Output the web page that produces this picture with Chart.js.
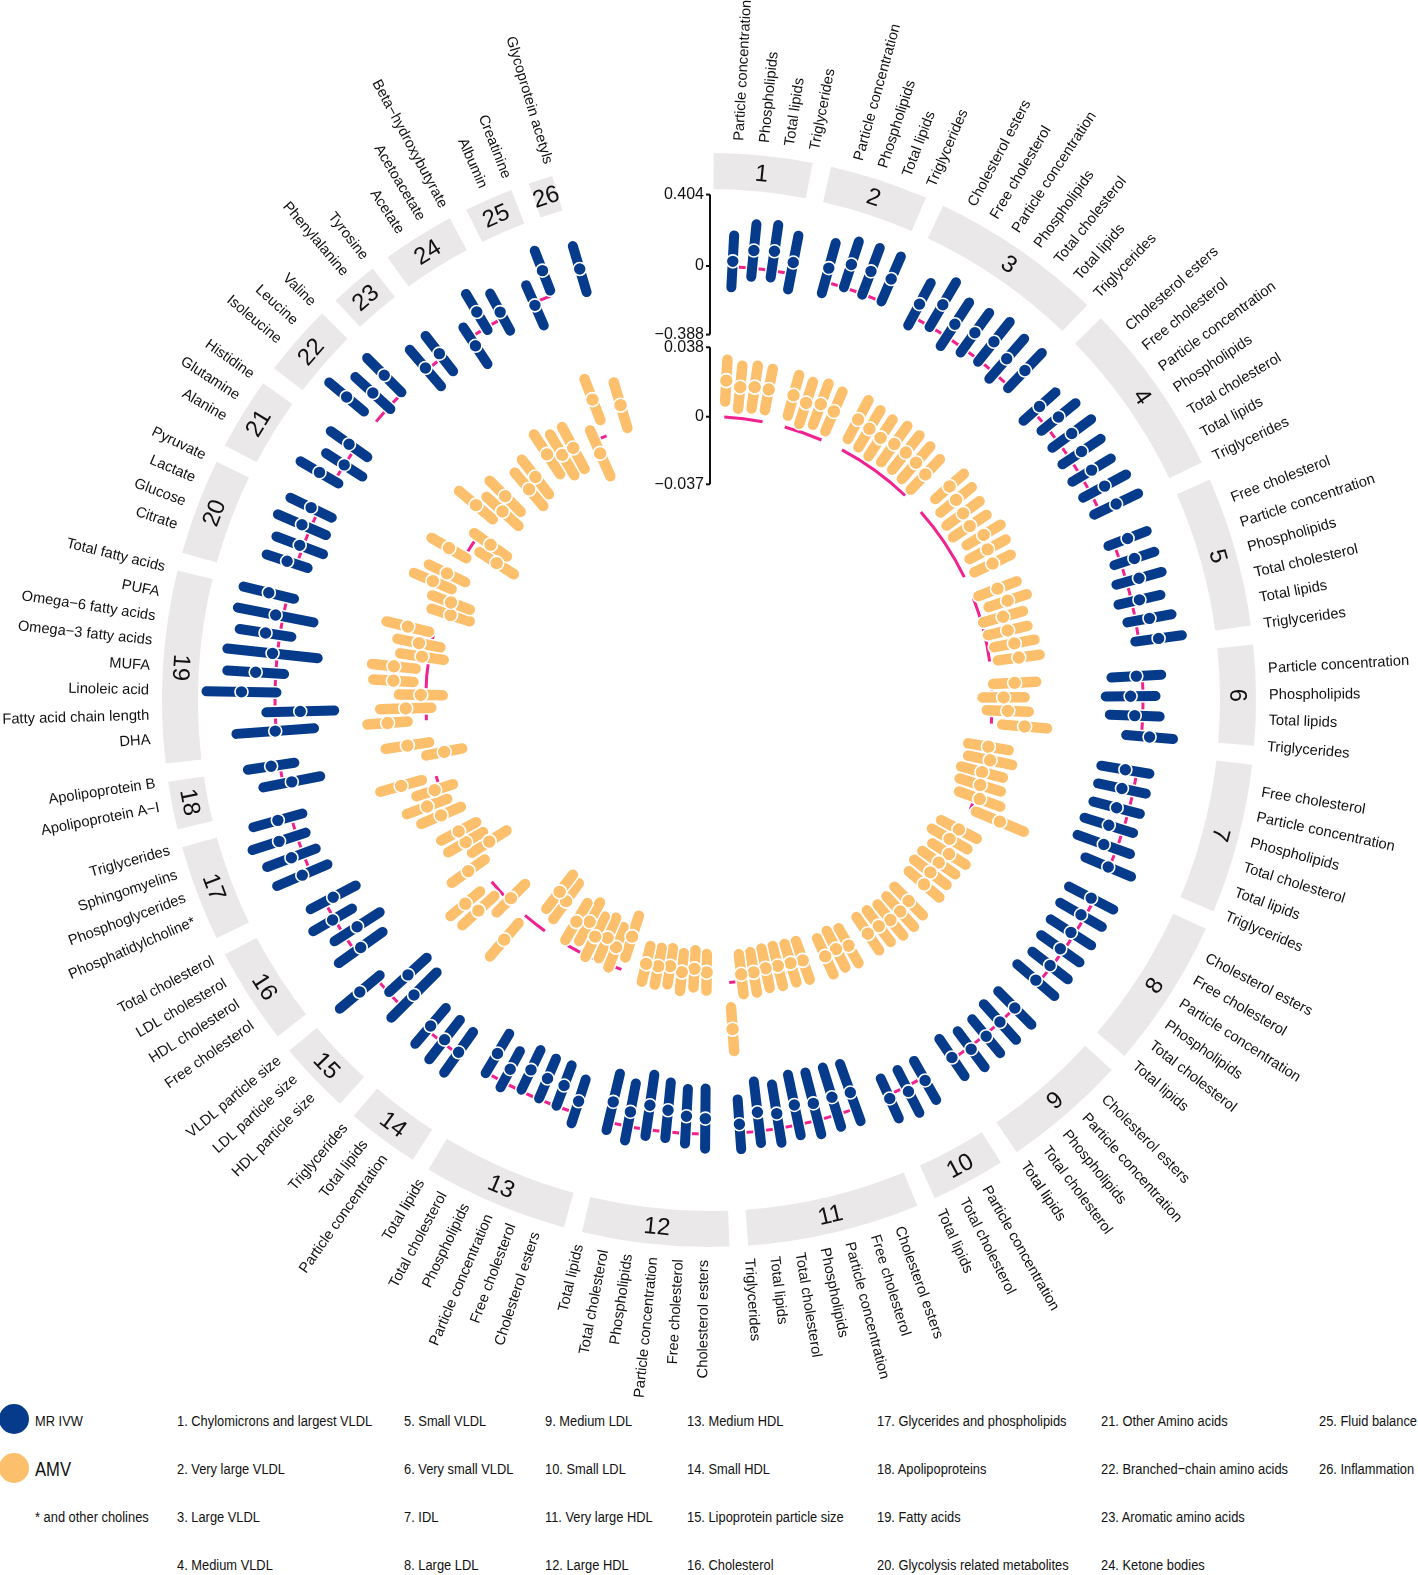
<!DOCTYPE html>
<html>
<head>
<meta charset="utf-8">
<script src="https://cdn.jsdelivr.net/npm/chart.js@4.4.1/dist/chart.umd.min.js"></script>
<style>
html,body{margin:0;padding:0;background:#fff;}
body{width:1418px;height:1575px;position:relative;overflow:hidden;font-family:"Liberation Sans",Arial,sans-serif;}
#wrap{position:absolute;left:0;top:0;width:1418px;height:1400px;}
.lg{position:absolute;font-family:"Liberation Sans",Arial,sans-serif;font-size:15.5px;color:#111;white-space:nowrap;line-height:1;transform-origin:0 50%;transform:translateY(-50%) scaleX(0.83);}
.mk{position:absolute;border-radius:50%;}
</style>
</head>
<body>
<div id="wrap"><canvas id="c" width="1418" height="1400"></canvas></div>
<div id="legend"></div>
<script>
// ---------------- DATA ----------------
const groupLegend = ["1. Chylomicrons and largest VLDL","2. Very large VLDL","3. Large VLDL","4. Medium VLDL",
  "5. Small VLDL","6. Very small VLDL","7. IDL","8. Large LDL",
  "9. Medium LDL","10. Small LDL","11. Very large HDL","12. Large HDL",
  "13. Medium HDL","14. Small HDL","15. Lipoprotein particle size","16. Cholesterol",
  "17. Glycerides and phospholipids","18. Apolipoproteins","19. Fatty acids","20. Glycolysis related metabolites",
  "21. Other Amino acids","22. Branched\u2212chain amino acids","23. Aromatic amino acids","24. Ketone bodies",
  "25. Fluid balance","26. Inflammation"];

const L4 = ["Particle concentration","Phospholipids","Total lipids","Triglycerides"];
const L7 = ["Cholesterol esters","Free cholesterol","Particle concentration","Phospholipids","Total cholesterol","Total lipids","Triglycerides"];
const L6a = ["Free cholesterol","Particle concentration","Phospholipids","Total cholesterol","Total lipids","Triglycerides"];
const L6b = ["Cholesterol esters","Free cholesterol","Particle concentration","Phospholipids","Total cholesterol","Total lipids"];
const groupMetabolites = [
  L4, L4, L7, L7, L6a, L4, L6a, L6b,
  ["Cholesterol esters","Particle concentration","Phospholipids","Total cholesterol","Total lipids"],
  ["Particle concentration","Total cholesterol","Total lipids"],
  L7, L6b, L6b,
  ["Particle concentration","Total lipids","Triglycerides"],
  ["HDL particle size","LDL particle size","VLDL particle size"],
  ["Free cholesterol","HDL cholesterol","LDL cholesterol","Total cholesterol"],
  ["Phosphatidylcholine*","Phosphoglycerides","Sphingomyelins","Triglycerides"],
  ["Apolipoprotein A\u2212I","Apolipoprotein B"],
  ["DHA","Fatty acid chain length","Linoleic acid","MUFA","Omega\u22123 fatty acids","Omega\u22126 fatty acids","PUFA","Total fatty acids"],
  ["Citrate","Glucose","Lactate","Pyruvate"],
  ["Alanine","Glutamine","Histidine"],
  ["Isoleucine","Leucine","Valine"],
  ["Phenylalanine","Tyrosine"],
  ["Acetate","Acetoacetate","Beta\u2212hydroxybutyrate"],
  ["Albumin","Creatinine"],
  ["Glycoprotein acetyls"]
];

// MR IVW estimates and 95% CI half-widths (one per metabolite, in group order)
const mrEst = [
  0.03,0.10,0.11,0.065,
  0.08,0.137,0.137,0.14,
  0.081,0.143,0.085,0.11,0.134,0.107,0.127,
  0.045,0.089,0.091,0.078,0.07,0.089,0.101,
  0.083,0.081,0.073,0.045,0.079,0.112,
  -0.034,-0.07,-0.045,0.046,
  -0.067,-0.066,-0.07,-0.085,-0.077,-0.007,
  -0.02,-0.025,-0.022,-0.02,-0.01,-0.02,
  0.0,0.0,0.01,0.015,-0.01,
  0.02,0.03,0.02,
  -0.095,-0.103,-0.098,-0.114,-0.084,-0.107,-0.049,
  -0.087,-0.097,-0.123,-0.138,-0.083,-0.118,
  -0.068,-0.125,-0.127,-0.133,-0.083,-0.125,
  -0.01,-0.02,-0.03,
  -0.095,-0.149,0.12,
  -0.038,-0.087,0.011,-0.054,
  0.05,0.07,0.105,0.077,
  -0.05,0.05,
  0.005,-0.142,0.19,0.114,0.028,0.082,0.043,0.108,
  0.057,0.02,0.052,0.045,
  0.097,0.0,0.043,
  0.217,0.12,0.143,
  0.015,0.028,
  -0.055,0.103,0.037,
  -0.015,0.15,
  0.09
];
const mrHalf = [
  0.147,0.149,0.15,0.155,
  0.147,0.136,0.141,0.138,
  0.136,0.147,0.147,0.138,0.144,0.15,0.138,
  0.121,0.124,0.136,0.13,0.127,0.138,0.138,
  0.116,0.119,0.133,0.122,0.127,0.133,
  0.141,0.141,0.141,0.133,
  0.138,0.138,0.136,0.144,0.158,0.14,
  0.141,0.136,0.136,0.133,0.127,0.138,
  0.133,0.136,0.124,0.127,0.127,
  0.127,0.136,0.124,
  0.172,0.175,0.18,0.175,0.167,0.175,0.141,
  0.17,0.155,0.158,0.175,0.164,0.164,
  0.13,0.122,0.122,0.124,0.116,0.13,
  0.141,0.141,0.133,
  0.181,0.144,0.147,
  0.152,0.152,0.127,0.144,
  0.155,0.147,0.158,0.144,
  0.164,0.133,
  0.22,0.192,0.198,0.161,0.257,0.148,0.218,0.147,
  0.122,0.141,0.148,0.13,
  0.124,0.122,0.127,
  0.128,0.134,0.137,
  0.136,0.127,
  0.124,0.119,0.119,
  0.124,0.121,
  0.136
];
// AMV estimates and 95% CI half-widths
const amvEst = [
  0.020,0.017,0.018,0.018,
  0.018,0.016,0.018,0.017,
  0.0188,0.0174,0.0164,0.0179,0.018,0.0173,0.016,
  0.021,0.019,0.0175,0.0165,0.0203,0.0183,0.0172,
  0.0142,0.0172,0.0122,0.0128,0.0149,0.0161,
  0.0125,0.0062,0.0086,0.0183,
  0.0,0.0023,-0.0005,0.0005,0.0027,0.0175,
  -0.001,-0.003,0.001,-0.001,-0.0015,0.0,
  0.0,0.001,0.001,-0.0003,-0.0004,
  -0.0004,-0.002,-0.001,
  -0.0036,-0.0043,-0.0047,-0.005,-0.004,-0.0039,0.0256,
  -0.006,-0.0077,-0.0054,-0.0078,-0.0067,-0.0066,
  -0.0189,-0.0105,-0.0135,-0.0113,-0.0172,-0.0137,
  -0.020,-0.022,0.0175,
  -0.0017,0.0159,0.0188,
  0.0066,-0.012,-0.0008,-0.0003,
  0.0046,0.0099,0.003,0.0199,
  -0.0074,0.0119,
  0.0213,0.011,0.0027,0.018,0.0184,0.0038,0.0067,0.0146,
  -0.0062,-0.0041,0.0095,0.0042,
  0.0098,-0.0168,-0.0084,
  0.0112,-0.002,0.0027,
  -0.0034,-0.0004,
  0.006,0.0013,0.0016,
  -0.0075,0.0213,
  0.0134
];
const amvHalf = [
  0.0115,0.0118,0.0118,0.0115,
  0.0115,0.012,0.012,0.0118,
  0.012,0.0118,0.012,0.0122,0.012,0.0118,0.0115,
  0.0104,0.011,0.0112,0.011,0.0108,0.0112,0.011,
  0.0112,0.011,0.0113,0.0111,0.0112,0.0115,
  0.0118,0.0115,0.0115,0.0123,
  0.0112,0.0123,0.0118,0.0118,0.012,0.0142,
  0.011,0.0112,0.0108,0.011,0.0112,0.011,
  0.011,0.0112,0.011,0.0108,0.011,
  0.011,0.0112,0.0108,
  0.0112,0.011,0.0113,0.011,0.0112,0.011,0.012,
  0.010,0.0102,0.0104,0.010,0.0102,0.010,
  0.012,0.0118,0.012,0.0122,0.012,0.0118,
  0.012,0.0118,0.012,
  0.011,0.0118,0.0105,
  0.011,0.0112,0.011,0.0108,
  0.0118,0.0118,0.0105,0.0118,
  0.010,0.012,
  0.011,0.014,0.012,0.011,0.012,0.012,0.012,0.012,
  0.011,0.011,0.0112,0.011,
  0.011,0.0112,0.011,
  0.012,0.0118,0.012,
  0.012,0.012,
  0.013,0.013,0.013,
  0.0137,0.012,
  0.013
];
const mrTicks = [0.404, 0, -0.388];
const amvTicks = [0.038, 0, -0.037];
const tickText = v => v === 0 ? "0" : (v < 0 ? "\u2212" + Math.abs(v).toString() : v.toString());

// ---------------- LAYOUT / STYLE ----------------
const BLUE = "#063b8c", ORANGE = "#fcbf6c", PINK = "#f0228f", BOXC = "#ebe8e9";
const N_SLOTS = 3600;                 // angular category slots (0.1 degree each)
const A0 = 4.3, STEP_DEG = 2.6, GAP_DEG = 1.96, WARP = 1.2;
const warpDeg = u => u - WARP * Math.cos(u * Math.PI / 180);
const DRAW_R = 700;
const MR_PX = 176.8, MR_ZERO = 434;
const AMV_PX = 1827, AMV_ZERO = 283.3;
const mrMin = -MR_ZERO / MR_PX, mrMax = mrMin + DRAW_R / MR_PX;
const amvMin = -AMV_ZERO / AMV_PX, amvMax = amvMin + DRAW_R / AMV_PX;

// slot labels (category axis around the circle)
const slotLabels = new Array(N_SLOTS).fill("");
const items = [];
const groupInfo = [];
let k = 0;
groupMetabolites.forEach((list, g) => {
  const slots = [];
  let uFirst = null, uLast = null;
  list.forEach(name => {
    const u = A0 + STEP_DEG * k + GAP_DEG * g;
    if (uFirst === null) uFirst = u;
    uLast = u;
    const slot = Math.round(warpDeg(u) * 10) % N_SLOTS;
    slotLabels[slot] = name;
    items.push({slot, g, name, k});
    slots.push(slot);
    k++;
  });
  groupInfo.push({slots, boxStart: warpDeg(uFirst - STEP_DEG) * 10, boxEnd: warpDeg(uLast) * 10});
});
const mrData = new Array(N_SLOTS).fill(null);
const amvData = new Array(N_SLOTS).fill(null);
items.forEach(it => { mrData[it.slot] = mrEst[it.k]; amvData[it.slot] = amvEst[it.k]; });

function angOf(scale, idx) {
  return scale.getIndexAngle(idx) - Math.PI / 2;
}

const decor = {
  id: "decor",
  beforeDatasetsDraw(chart) {
    const ctx = chart.ctx;
    const sB = chart.scales.r, sO = chart.scales.rO;
    const cx = sB.xCenter, cy = sB.yCenter;
    ctx.save();
    // group boxes + numbers
    const R1 = 511, R2 = 547;
    groupInfo.forEach((gi, g) => {
      let a0 = angOf(sB, gi.boxStart), a1 = angOf(sB, gi.boxEnd);
      if (a1 < a0) a1 += 2 * Math.PI;
      ctx.beginPath();
      ctx.arc(cx, cy, R2, a0, a1);
      ctx.arc(cx, cy, R1, a1, a0, true);
      ctx.closePath();
      ctx.fillStyle = BOXC;
      ctx.fill();
      const am = (a0 + a1) / 2, rm = (R1 + R2) / 2;
      let th = am + Math.PI / 2;
      let td = ((th * 180 / Math.PI) % 360 + 360) % 360;
      const flip = td > 118 && td < 288;
      ctx.save();
      ctx.translate(cx + rm * Math.cos(am), cy + rm * Math.sin(am));
      ctx.rotate(flip ? th + Math.PI : th);
      ctx.fillStyle = "#111";
      ctx.font = "24px 'Liberation Sans', Arial, sans-serif";
      ctx.textAlign = "center";
      ctx.textBaseline = "middle";
      ctx.fillText(String(g + 1), 0, 1);
      ctx.restore();
    });
    // metabolite labels
    ctx.font = "14.7px 'Liberation Sans', Arial, sans-serif";
    ctx.fillStyle = "#111";
    const RL = 560;
    items.forEach(it => {
      const a = angOf(sB, it.slot);
      let td = (((a + Math.PI / 2) * 180 / Math.PI) % 360 + 360) % 360;
      ctx.save();
      ctx.translate(cx + RL * Math.cos(a), cy + RL * Math.sin(a));
      if (td < 180) { ctx.rotate(a); ctx.textAlign = "left"; }
      else { ctx.rotate(a + Math.PI); ctx.textAlign = "right"; }
      ctx.textBaseline = "middle";
      ctx.fillText(it.name, 0, 0);
      ctx.restore();
    });
    // zero arcs
    [[sB, 3], [sO, 3]].forEach(([s, w]) => {
      const r0 = s.getDistanceFromCenterForValue(0);
      ctx.strokeStyle = PINK;
      ctx.lineWidth = w;
      ctx.lineCap = "butt";
      groupInfo.forEach(gi => {
        const slots = gi.slots;
        if (slots.length < 2) return;
        let a0 = angOf(s, slots[0]), a1 = angOf(s, slots[slots.length - 1]);
        if (a1 < a0) a1 += 2 * Math.PI;
        ctx.beginPath();
        ctx.arc(cx, cy, r0, a0, a1);
        ctx.stroke();
      });
    });
    // CI bars
    const bars = (s, est, half, color, w) => {
      ctx.lineCap = "round";
      items.forEach(it => {
        const p1 = s.getPointPositionForValue(it.slot, est[it.k] - half[it.k]);
        const p2 = s.getPointPositionForValue(it.slot, est[it.k] + half[it.k]);
        ctx.beginPath(); ctx.moveTo(p1.x, p1.y); ctx.lineTo(p2.x, p2.y);
        ctx.strokeStyle = "#fff"; ctx.lineWidth = w + 3; ctx.stroke();
        ctx.beginPath(); ctx.moveTo(p1.x, p1.y); ctx.lineTo(p2.x, p2.y);
        ctx.strokeStyle = color; ctx.lineWidth = w; ctx.stroke();
      });
    };
    bars(sB, mrEst, mrHalf, BLUE, 10);
    bars(sO, amvEst, amvHalf, ORANGE, 10.5);
    // axes at top
    const axis = (s, ticks) => {
      const rTop = s.getDistanceFromCenterForValue(ticks[0]);
      const rBot = s.getDistanceFromCenterForValue(ticks[ticks.length - 1]);
      ctx.strokeStyle = "#111"; ctx.lineWidth = 2; ctx.lineCap = "butt";
      ctx.beginPath(); ctx.moveTo(cx + 1, cy - rTop); ctx.lineTo(cx + 1, cy - rBot); ctx.stroke();
      ctx.font = "16px 'Liberation Sans', Arial, sans-serif";
      ctx.fillStyle = "#111"; ctx.textAlign = "right"; ctx.textBaseline = "middle";
      ticks.forEach(v => {
        const r = s.getDistanceFromCenterForValue(v);
        ctx.beginPath(); ctx.moveTo(cx - 3, cy - r); ctx.lineTo(cx + 1, cy - r); ctx.stroke();
        ctx.fillText(tickText(v), cx - 5, cy - r);
      });
    };
    axis(sB, mrTicks);
    axis(sO, amvTicks);
    ctx.restore();
  }
};

const radialOpts = (min, max) => ({
  type: "radialLinear", axis: "r", min, max, startAngle: 0,
  grid: {display: false}, angleLines: {display: false},
  pointLabels: {display: false}, ticks: {display: false}
});

new Chart(document.getElementById("c"), {
  type: "radar",
  data: {
    labels: slotLabels,
    datasets: [
      {label: "MR IVW", data: mrData, rAxisID: "r", showLine: false, fill: false, borderWidth: 0,
       pointRadius: 6.5, pointBackgroundColor: BLUE, pointBorderColor: "#fff", pointBorderWidth: 1.6},
      {label: "AMV", data: amvData, rAxisID: "rO", showLine: false, fill: false, borderWidth: 0,
       pointRadius: 7, pointBackgroundColor: ORANGE, pointBorderColor: "#fff", pointBorderWidth: 1.6}
    ]
  },
  options: {
    responsive: false, animation: false, events: [],
    layout: {padding: 0},
    plugins: {legend: {display: false}, tooltip: {enabled: false}, title: {display: false}},
    scales: {r: radialOpts(mrMin, mrMax), rO: radialOpts(amvMin, amvMax)}
  },
  plugins: [decor]
});

// ---------------- LEGEND (HTML text) ----------------
const lg = document.getElementById("legend");
const rowsY = [1421, 1469, 1517, 1565];
const colX = [177, 404, 545, 687, 877, 1101, 1319];
function addText(txt, x, y, size) {
  const d = document.createElement("div");
  d.className = "lg"; d.textContent = txt;
  d.style.left = x + "px"; d.style.top = y + "px";
  if (size) d.style.fontSize = size + "px";
  lg.appendChild(d);
}
function addMark(color, cxp, cyp, r) {
  const d = document.createElement("div");
  d.className = "mk"; d.style.background = color;
  d.style.left = (cxp - r) + "px"; d.style.top = (cyp - r) + "px";
  d.style.width = (2 * r) + "px"; d.style.height = (2 * r) + "px";
  lg.appendChild(d);
}
addMark(BLUE, 14, 1419, 15);
addMark(ORANGE, 14, 1468, 15);
addText("MR IVW", 35, rowsY[0]);
addText("AMV", 35, rowsY[1], 20);
addText("* and other cholines", 35, rowsY[2]);
groupLegend.forEach((t, i) => addText(t, colX[Math.floor(i / 4)], rowsY[i % 4]));
</script>
</body>
</html>
